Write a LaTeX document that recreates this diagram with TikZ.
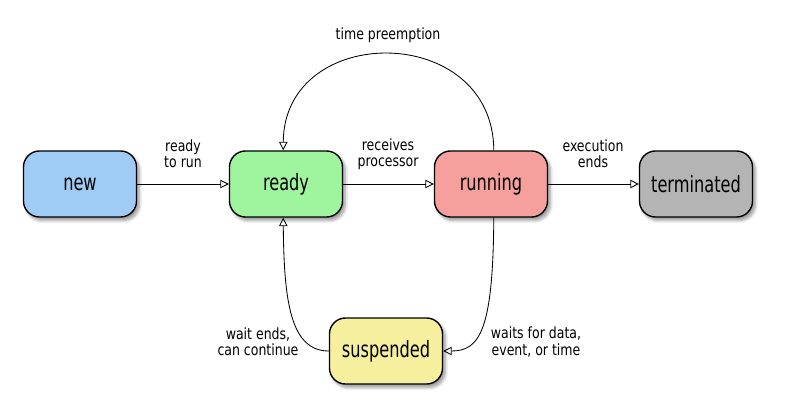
\documentclass[tikz,border=0pt]{standalone}
\usepackage{fontspec}
\setmainfont{DejaVu Sans Condensed}[FakeStretch=0.8]
\newfontfamily\lblfont{DejaVu Sans Condensed}[FakeStretch=0.9]
\usetikzlibrary{arrows.meta,shadows.blur}
\definecolor{cnew}{RGB}{158,204,245}
\definecolor{cready}{RGB}{158,245,158}
\definecolor{crun}{RGB}{245,160,156}
\definecolor{cterm}{RGB}{180,180,180}
\definecolor{csusp}{RGB}{245,239,158}
\tikzset{
  state/.style={draw=black, line width=1pt, rounded corners=0.4cm,
    minimum width=2.825cm, minimum height=1.65cm, font=\fontsize{16}{18}\selectfont,
    blur shadow={shadow xshift=2pt, shadow yshift=-2.5pt, shadow blur steps=6, shadow opacity=40}},
  conn/.style={line width=0.6pt, -{Triangle[open, length=6pt, width=6pt]}},
  lbl/.style={font=\lblfont\fontsize{11}{11.5}\selectfont, align=center}
}
\begin{document}
\begin{tikzpicture}[x=0.025cm,y=-0.025cm]
\useasboundingbox (0,0) rectangle (800,400);
\node[state, fill=cnew] (new) at (80,184) {new};
\node[state, fill=cready] (ready) at (286,184) {ready};
\node[state, fill=crun] (run) at (491,184) {running};
\node[state, fill=cterm] (term) at (696,184) {terminated};
\node[state, fill=csusp] (susp) at (386,351) {suspended};

\draw[conn] (new) -- (ready);
\draw[conn] (ready) -- (run);
\draw[conn] (run) -- (term);
\draw[conn] ([xshift=2]run.north) .. controls (493,22) and (284,22) .. ([xshift=-2]ready.north);
\draw[conn] ([xshift=2]run.south) .. controls (493,330) and (480,351) .. (susp.east);
\draw[conn] (susp.west) .. controls (290,351) and (284,300) .. ([xshift=-2]ready.south);

\node[lbl] (l1) at (183,154) {ready\\to run};
\node[lbl] (l2) at (388,154) {receives\\processor};
\node[lbl] (l3) at (593,154) {execution\\ends};
\node[lbl] (l4) at (388,35) {time preemption};
\node[lbl] (l5) at (536,342) {waits for data,\\event, or time};
\node[lbl] (l6) at (258,342) {wait ends,\\can continue};
\end{tikzpicture}
\end{document}
